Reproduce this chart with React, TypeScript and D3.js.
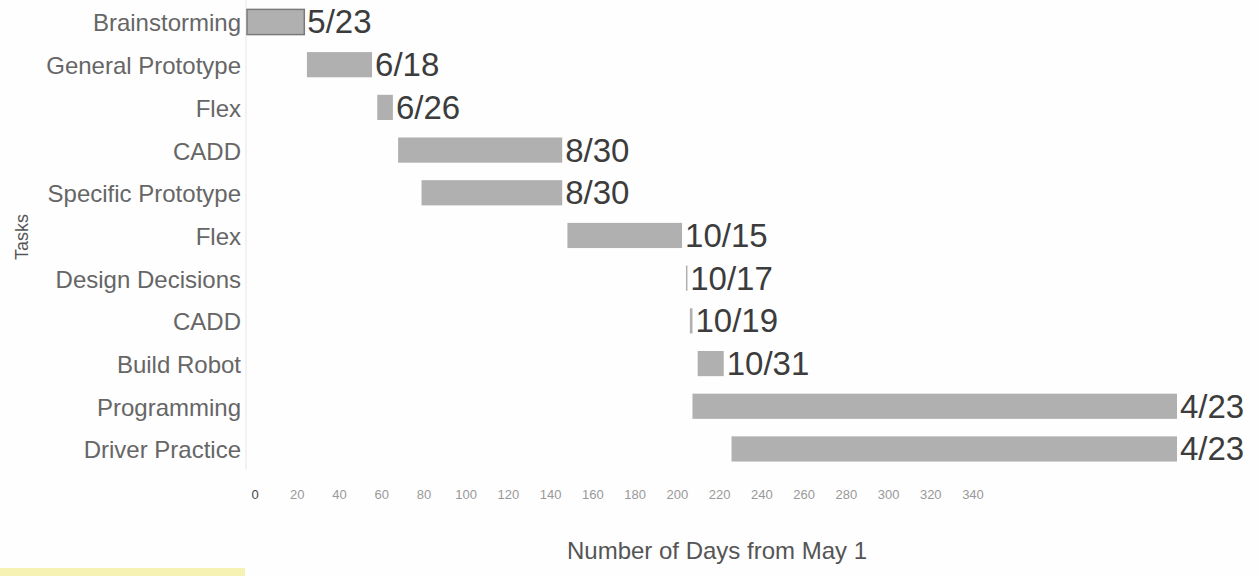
import React from "react";
import * as d3 from "d3";

const tasks = [
  "Brainstorming",
  "General Prototype",
  "Flex",
  "CADD",
  "Specific Prototype",
  "Flex",
  "Design Decisions",
  "CADD",
  "Build Robot",
  "Programming",
  "Driver Practice",
];
const startDays = [0, 23, 50, 58, 67, 123, 168.5, 170, 173, 171, 186];
const endDays = [22, 48, 56, 121, 121, 167, 169, 171, 183, 357, 357];
const endLabels = ["5/23", "6/18", "6/26", "8/30", "8/30", "10/15", "10/17", "10/19", "10/31", "4/23", "4/23"];
const tickValues = [0, 20, 40, 60, 80, 100, 120, 140, 160, 180, 200, 220, 240, 260, 280, 300, 320, 340];

const W = 1258;
const H = 576;
const FONT = "'Liberation Sans', Arial, sans-serif";

export default function App() {
  const x = d3.scaleLinear().domain([0, 357]).range([247, 1177]);
  const tickX = d3.scaleLinear().domain([0, 340]).range([255, 973]);
  const idx = tasks.map((_, i) => String(i));
  const y = d3
    .scaleBand<string>()
    .domain(idx)
    .range([0.65, 470.3])
    .paddingInner(0.41)
    .paddingOuter(0.205);

  return (
    <svg
      width={W}
      height={H}
      style={{ position: "absolute", left: 0, top: 0, background: "#fefefe" }}
      fontFamily={FONT}
    >
      <rect x={0} y={0} width={W} height={H} fill="#fefefe" />
      <rect x={0} y={568} width={245} height={8} fill="#f6f2b4" />
      <line x1={246} x2={246} y1={0} y2={470} stroke="#e6e6e6" strokeWidth={1} />
      {tasks.map((t, i) => {
        const yc = (y(String(i)) as number) + y.bandwidth() / 2;
        return (
          <text
            key={"t" + i}
            x={241}
            y={yc + 1}
            textAnchor="end"
            dominantBaseline="central"
            fontSize={24}
            fill="#666"
          >
            {t}
          </text>
        );
      })}
      {tasks.map((t, i) => {
        const y0 = y(String(i)) as number;
        const x0 = x(startDays[i]);
        const x1 = x(endDays[i]);
        return (
          <g key={"b" + i}>
            <rect
              x={x0}
              y={y0}
              width={Math.max(1.5, x1 - x0)}
              height={y.bandwidth()}
              fill="#b0b0b0"
              stroke={i === 0 ? "#7a7a7a" : "none"}
              strokeWidth={i === 0 ? 1.5 : 0}
            />
            <text
              x={x1 + 3}
              y={y0 + y.bandwidth() / 2}
              dominantBaseline="central"
              fontSize={33}
              fill="#3c3c3c"
            >
              {endLabels[i]}
            </text>
          </g>
        );
      })}
      {tickValues.map((v) => (
        <text
          key={"k" + v}
          x={tickX(v)}
          y={494}
          textAnchor="middle"
          dominantBaseline="central"
          fontSize={13}
          fill={v === 0 ? "#444" : "#999"}
        >
          {v}
        </text>
      ))}
      <text
        x={717}
        y={550}
        textAnchor="middle"
        dominantBaseline="central"
        fontSize={24}
        fill="#555"
      >
        Number of Days from May 1
      </text>
      <text
        transform="translate(22,237) rotate(-90)"
        textAnchor="middle"
        dominantBaseline="central"
        fontSize={18}
        fill="#555"
      >
        Tasks
      </text>
    </svg>
  );
}
